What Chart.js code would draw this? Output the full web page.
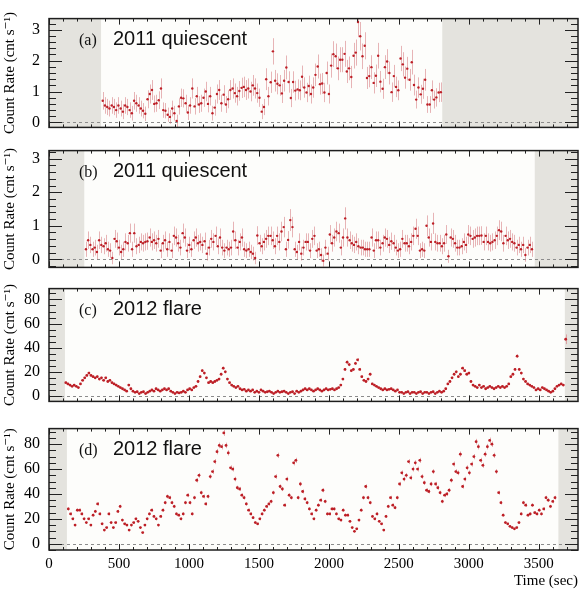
<!DOCTYPE html>
<html>
<head>
<meta charset="utf-8">
<title>Count rate light curves</title>
<script src="https://cdn.jsdelivr.net/npm/chart.js@4.4.1/dist/chart.umd.min.js"></script>
<style>
  html, body { margin: 0; padding: 0; background: #fff; }
  #wrap { position: relative; width: 580px; height: 592px; }
  #wrap canvas { position: absolute; left: 0; }
</style>
</head>
<body>
<div id="wrap">
  <canvas id="panelA" width="580" height="146" style="top:0px"></canvas>
  <canvas id="panelB" width="580" height="154" style="top:132px"></canvas>
  <canvas id="panelC" width="580" height="150" style="top:270px"></canvas>
  <canvas id="panelD" width="580" height="182" style="top:410px"></canvas>
</div>
<script>
// axes
const timeTicks = [0, 500, 1000, 1500, 2000, 2500, 3000, 3500];
const timeMax = 3780;
const quietTicks = [0, 1, 2, 3];
const flareTicks = [0, 20, 40, 60, 80];

// (a) 2011 quiescent, first half (16 s bins)
const startA = 384, binA = 16;
const rateA = [
  0.70, 0.55, 0.50, 0.45, 0.55, 0.50, 0.40, 0.55, 0.45, 0.35,
  0.55, 0.50, 0.40, 0.30, 0.70, 0.62, 0.55, 0.45, 0.38, 0.28,
  0.75, 0.92, 1.05, 0.60, 0.62, 0.72, 1.10, 0.40,
  0.38, 0.25, 0.18, 0.45, 0.30, 0.05, 0.52,
  0.80, 0.78, 0.62, 0.32, 0.55, 1.10, 0.52, 0.85, 0.58,
  0.62, 0.80, 1.00, 0.60, 0.85, 0.30, 0.48, 0.92, 1.05,
  0.62, 0.90, 0.58, 0.75, 1.05, 1.10, 0.95, 0.85,
  1.02, 1.12, 1.15, 1.05, 1.10, 1.00, 1.20, 1.10, 0.95, 0.80,
  0.35, 0.50, 1.40, 0.85, 1.30, 2.30, 1.35, 1.25, 1.20,
  0.94, 1.35, 1.78, 1.31, 0.79, 1.31, 1.03, 1.07, 1.04, 1.48,
  1.13, 0.97, 1.18, 0.92, 1.13, 1.54, 1.81, 1.24, 1.26, 0.97,
  1.60, 0.92, 1.84, 2.21, 2.14, 1.75, 2.03, 2.03, 2.22, 1.65,
  1.75, 1.47, 2.16, 2.26, 3.25, 2.79, 2.14, 2.48, 1.44, 1.50,
  1.79, 1.28, 1.51, 2.16, 1.32, 1.09, 1.79, 1.97, 1.60, 0.98,
  1.50, 1.15, 1.04, 2.07, 1.88, 1.45, 1.74, 1.38, 1.95, 1.21,
  0.74, 1.13, 0.91, 1.09, 1.38, 0.58, 0.58, 1.04, 0.74, 0.81,
  0.97, 0.98
];
const gapsA = [[0, 372], [2810, 3780]];

// (b) 2011 quiescent, second half
const startB = 264, binB = 15.7;
const rateB = [
  0.30, 0.57, 0.43, 0.30, 0.35, 0.22, 0.57, 0.43, 0.39, 0.48,
  0.30, 0.26, 0.04, 0.61, 0.54, 0.35, 0.22, 0.30, 0.52, 0.48,
  0.78, 0.30, 0.78, 0.39, 0.43, 0.52, 0.48, 0.52, 0.54, 0.65,
  0.52, 0.57, 0.48, 0.61, 0.26, 0.48, 0.57, 0.30, 0.52, 0.26,
  0.70, 0.65, 0.48, 0.35, 0.78, 0.65, 0.26, 0.43, 0.30, 0.57,
  0.65, 0.48, 0.52, 0.43, 0.54, 0.17, 0.35, 0.61, 0.52, 0.70,
  0.39, 0.65, 0.35, 0.26, 0.35, 0.30, 0.35, 0.83, 0.57, 0.35,
  0.52, 0.65, 0.30, 0.26, 0.30, 0.22, 0.17, 0.04, 0.71, 0.48,
  0.39, 0.52, 0.61, 0.70, 0.70, 0.57, 0.39, 0.70,
  0.52, 0.83, 0.96, 0.30, 0.58, 1.17, 0.96, 0.30, 0.22, 0.52,
  0.17, 0.35, 0.52, 0.52, 0.26, 0.61, 0.70, 0.26, 0.30, 0.13,
  -0.04, 0.35, 0.17, 0.74, 0.48, 0.65, 0.83, 0.78, 0.35, 0.65,
  1.22, 0.65, 0.57, 0.48, 0.43, 0.52, 0.39, 0.35, 0.35, 0.30,
  0.30, 0.30, 0.65, 0.26, 0.57, 0.57, 0.35, 0.48, 0.65, 0.61,
  0.43, 0.54, 0.48, 0.35, 0.26, 0.30, 0.61, 0.48, 0.48, 0.39,
  0.52, 0.70, 0.91, 0.70, 0.26, 0.30, 0.26, 1.00, 0.65, 0.52,
  1.07, 0.52, 0.48, 0.48, 0.39, 0.48, 0.74, 0.09, 0.65, 0.61,
  0.48, 0.35, 0.35, 0.39, 0.52, 0.43, 0.74, 0.70, 0.61, 0.65,
  0.70, 0.70, 0.71, 0.52, 0.70, 0.52, 0.48, 0.52, 0.57, 0.70,
  0.87, 0.83, 0.48, 0.70, 0.57, 0.61, 0.52, 0.48, 0.35, 0.43,
  0.30, 0.43, 0.13, 0.35, 0.43, 0.30
];
const gapsB = [[0, 252], [3471, 3780]];

// (c) 2012 flare, first orbit
const startC = 120, binC = 15;
const rateC = [
  11, 10, 9, 8, 9, 8, 7, 10, 13, 15,
  17, 19, 17, 16, 15, 16, 14, 15, 13, 15,
  12, 13, 11, 10, 9, 8, 7, 6, 5, 4,
  9, 6, 4, 3, 3.5, 2, 3, 3.5, 2, 3,
  4, 5, 4, 6, 5, 4, 5, 6, 5, 6,
  4, 3, 2, 3, 2.5, 3, 4, 3, 5, 6,
  5, 7, 8, 12, 16, 21, 19, 15, 11, 12,
  11, 12, 13, 14, 18, 23, 20, 14, 11, 9,
  8, 7, 8, 6, 5, 5.5, 4, 5, 4, 5,
  3, 4, 3, 5, 4, 3, 3.5, 4, 3, 2,
  3, 4, 3, 3.5, 4, 3, 2, 3, 3.5, 2,
  4, 3, 4, 5, 6, 5, 6, 5, 4, 5,
  6, 5, 4, 5, 6, 5, 5.5, 6, 5, 6,
  7, 9, 14, 22, 28, 26, 21, 22, 27, 30,
  22, 16, 13, 12, 14, 18, 10, 9, 8, 7,
  6, 5, 6, 5, 5.5, 6, 5, 4, 5, 3,
  3, 2, 3, 3.5, 2, 3, 3, 2, 3, 3.5,
  2, 3, 3, 2, 3, 3.5, 2, 3, 4, 3,
  4, 6, 10, 12, 15, 18, 20, 16, 18, 23,
  21, 18, 19, 12, 9, 8, 7, 9, 7, 8,
  6, 7, 8, 7, 6, 7, 8, 7, 8, 7,
  8, 10, 16, 18, 22, 33, 22, 19, 14, 12,
  10, 9, 8, 7, 5, 6, 5, 7, 6, 5,
  4, 3, 4, 6, 8, 9, 10, 9
];
const edgeC = [{t: 3692, rate: 47, err: 4}];
const gapsC = [[0, 114], [3686, 3780]];

// (d) 2012 flare, second orbit
const startD = 138, binD = 16.1;
const rateD = [
  28, 24, 20, 15, 27, 27, 24, 20, 17, 20,
  15, 23, 26, 32, 24, 16, 11, 13, 24, 17,
  13, 17, 26, 30, 19, 16, 15, 11, 15, 17,
  20, 18, 13, 9, 15, 20, 24, 27, 22, 20,
  15, 22, 27, 33, 38, 37, 33, 30, 24, 23,
  20, 24, 33, 39, 33, 24, 37, 51, 55, 41,
  38, 32, 38, 54, 58, 66, 74, 79, 78, 89,
  79, 73, 61, 60, 52, 45, 44, 39, 37, 32,
  27, 24, 21, 17, 16, 20, 24, 27, 30, 32,
  34, 41, 54, 71,
  46, 44, 31, 52, 39, 37, 65, 67, 37, 48,
  42, 36, 33, 28, 24, 20, 27, 31, 35, 43,
  34, 24, 24, 28, 28, 24, 20, 19, 27, 23,
  23, 18, 13, 10, 12, 19, 27, 37, 46, 37,
  33, 22, 20, 24, 18, 16, 11, 22, 30, 37,
  31, 29, 37, 48, 57, 52, 55, 66, 53, 60,
  65, 60, 67, 54, 49, 43, 42, 48, 58, 48,
  45, 41, 34, 39, 40, 43, 51, 64, 58, 57,
  72, 46, 52, 61, 57, 64, 70, 82, 78, 67,
  63, 72, 78, 83, 80, 71, 58, 41, 33, 23,
  17, 16, 14, 13, 12, 13, 17, 24, 33, 31,
  23, 24, 31, 25, 24, 27, 24, 28, 37, 35,
  30, 34, 37
];
const gapsD = [[0, 128], [3640, 3780]];

const tags = ['(a)', '(b)', '(c)', '(d)'];
const titles = ['2011 quiescent', '2011 quiescent', '2012 flare', '2012 flare'];

Chart.defaults.font.family = '"Liberation Serif", "DejaVu Serif", serif';
Chart.defaults.font.size = 15;
Chart.defaults.color = '#000';

function line(ctx, x0, y0, x1, y1) {
  ctx.beginPath();
  ctx.moveTo(x0, y0);
  ctx.lineTo(x1, y1);
  ctx.stroke();
}

// shading, zero line, error bars, frame with ROOT style inner ticks, labels
function panelDecor(p) {
  return {
    id: 'panelDecor',
    beforeDatasetsDraw(chart) {
      const {ctx, chartArea: a} = chart;
      const x = chart.scales.x, y = chart.scales.y;
      ctx.save();
      ctx.fillStyle = '#fdfdfb';
      ctx.fillRect(a.left, a.top, a.width, a.height);
      ctx.fillStyle = '#e4e3de';
      p.gaps.forEach(g => {
        const x0 = Math.max(x.getPixelForValue(g[0]), a.left);
        const x1 = Math.min(x.getPixelForValue(g[1]), a.right);
        ctx.fillRect(x0, a.top, x1 - x0, a.height);
      });
      const y0 = Math.round(y.getPixelForValue(0)) + 0.5;
      ctx.strokeStyle = '#8c8c8c';
      ctx.lineWidth = 1;
      ctx.setLineDash([3, 3]);
      line(ctx, a.left, y0, a.right, y0);
      ctx.setLineDash([]);
      ctx.beginPath();
      ctx.rect(a.left, a.top, a.width, a.height);
      ctx.clip();
      ctx.strokeStyle = p.barColor;
      chart.data.datasets[0].data.forEach(pt => {
        const px = Math.round(x.getPixelForValue(pt.x)) + 0.5;
        line(ctx, px, y.getPixelForValue(pt.y - pt.e), px, y.getPixelForValue(pt.y + pt.e));
      });
      ctx.restore();
    },
    afterDraw(chart) {
      const {ctx, chartArea: a} = chart;
      const x = chart.scales.x, y = chart.scales.y;
      ctx.save();
      ctx.strokeStyle = '#222';
      ctx.lineWidth = 1;
      for (let t = 0; t <= timeMax; t += 100) {
        const px = Math.round(x.getPixelForValue(t)) + 0.5;
        const len = t % 500 === 0 ? 6 : 3;
        line(ctx, px, a.top, px, a.top + len);
        line(ctx, px, a.bottom, px, a.bottom - len);
      }
      const first = Math.ceil(y.min / p.minor);
      const last = Math.floor(y.max / p.minor);
      for (let k = first; k <= last; k++) {
        const v = k * p.minor;
        const py = Math.round(y.getPixelForValue(v)) + 0.5;
        const major = p.major.some(m => Math.abs(m - v) < 1e-6);
        const len = major ? 13 : 7;
        line(ctx, a.left, py, a.left + len, py);
        line(ctx, a.right, py, a.right - len, py);
      }
      ctx.lineWidth = 1.5;
      ctx.strokeStyle = '#1e1e1e';
      ctx.strokeRect(a.left, a.top, a.width, a.height);
      ctx.fillStyle = '#111';
      ctx.textBaseline = 'alphabetic';
      ctx.font = '16px "Liberation Serif"';
      ctx.fillText(p.tag, a.left + 30, a.top + 26);
      ctx.font = '20px "Liberation Sans"';
      ctx.fillText(p.title, a.left + 64, a.top + 26);
      ctx.restore();
    }
  };
}

function makePanel(canvasId, p) {
  const points = p.rate.map((v, i) => ({
    x: p.start + i * p.bin,
    y: v,
    e: Math.sqrt((Math.max(v, 0) + p.bkg) / p.bin)
  }));
  (p.extra || []).forEach(q => points.push({x: q.t, y: q.rate, e: q.err}));

  return new Chart(document.getElementById(canvasId), {
    type: 'scatter',
    data: {
      datasets: [{
        data: points,
        pointRadius: p.dot,
        pointHoverRadius: p.dot,
        pointBackgroundColor: '#bd1f26',
        pointBorderWidth: 0,
        showLine: false
      }]
    },
    options: {
      responsive: false,
      animation: false,
      devicePixelRatio: 1,
      events: [],
      layout: {padding: {left: 0, right: 2, top: p.padTop, bottom: p.padBottom}},
      plugins: {legend: {display: false}, tooltip: {enabled: false}},
      scales: {
        x: {
          type: 'linear',
          min: 0,
          max: timeMax,
          display: p.showTime,
          grid: {display: false, drawTicks: false},
          border: {display: false},
          afterBuildTicks: s => { s.ticks = timeTicks.map(v => ({value: v})); },
          afterFit: s => { if (p.showTime) s.height = 42; },
          ticks: {padding: 5, maxRotation: 0, autoSkip: false, color: '#000', callback: v => String(v)},
          title: {display: true, text: 'Time (sec)', align: 'end', color: '#000', padding: {top: 0, bottom: 2}}
        },
        y: {
          type: 'linear',
          min: p.yRange[0],
          max: p.yRange[1],
          grid: {display: false, drawTicks: false},
          border: {display: false},
          afterBuildTicks: s => { s.ticks = p.major.map(v => ({value: v})); },
          afterFit: s => { s.width = 49; },
          ticks: {padding: 9, color: '#000', font: {size: 16}, callback: v => String(v)},
          title: {display: true, text: 'Count Rate (cnt s\u207B\u00B9)', color: '#000', padding: {top: 1, bottom: 0}}
        }
      }
    },
    plugins: [panelDecor(p)]
  });
}

makePanel('panelA', {
  rate: rateA, start: startA, bin: binA, bkg: 0.6, gaps: gapsA,
  yRange: [-0.16, 3.36], major: quietTicks, minor: 0.2,
  padTop: 5, padBottom: 10, showTime: false, dot: 1.2,
  barColor: 'rgba(214,120,125,0.55)', tag: tags[0], title: titles[0]
});
makePanel('panelB', {
  rate: rateB, start: startB, bin: binB, bkg: 0.5, gaps: gapsB,
  yRange: [-0.24, 3.24], major: quietTicks, minor: 0.2,
  padTop: 10, padBottom: 10, showTime: false, dot: 1.2,
  barColor: 'rgba(214,120,125,0.55)', tag: tags[1], title: titles[1]
});
makePanel('panelC', {
  rate: rateC, start: startC, bin: binC, bkg: 1, gaps: gapsC, extra: edgeC,
  yRange: [-4.5, 89], major: flareTicks, minor: 5,
  padTop: 10, padBottom: 10, showTime: false, dot: 1.4,
  barColor: 'rgba(214,120,125,0.6)', tag: tags[2], title: titles[2]
});
makePanel('panelD', {
  rate: rateD, start: startD, bin: binD, bkg: 1, gaps: gapsD,
  yRange: [-5, 92.5], major: flareTicks, minor: 5,
  padTop: 10, padBottom: 0, showTime: true, dot: 1.4,
  barColor: 'rgba(214,120,125,0.6)', tag: tags[3], title: titles[3]
});
</script>
</body>
</html>
